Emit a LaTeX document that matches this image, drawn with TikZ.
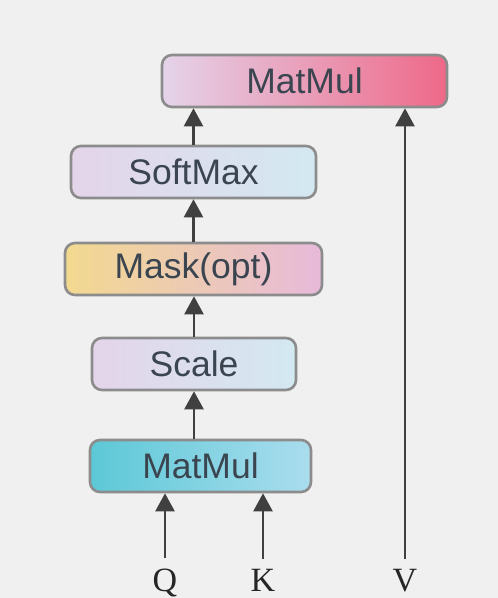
\documentclass[tikz,border=0pt]{standalone}
\usepackage{fontspec}
\setmainfont{Liberation Serif}
\newfontfamily\boxfont{Liberation Sans}
\usetikzlibrary{arrows.meta,positioning}
\definecolor{bggray}{HTML}{F0F0F0}
\definecolor{edgegray}{HTML}{8C8C8C}
\definecolor{dark}{HTML}{404040}
\definecolor{txtgray}{HTML}{3A4550}
\definecolor{lav}{HTML}{E4D4EA}
\definecolor{ltblue}{HTML}{D3E9F1}
\definecolor{pinkmid}{HTML}{DA92C0}
\definecolor{redpink}{HTML}{EE6888}
\definecolor{sand}{HTML}{F2D98F}
\definecolor{ltpink}{HTML}{EFD2E4}
\definecolor{pink}{HTML}{E7BADA}
\definecolor{teal}{HTML}{5CC8D6}
\definecolor{skyblue}{HTML}{AADDEE}
\tikzset{
  box/.style={draw=edgegray, rounded corners=10pt, line width=2.6pt, align=center, minimum height=52pt, inner sep=0pt, font=\boxfont\fontsize{35.5}{40}\selectfont, text=txtgray},
  pinkbox/.style={box, left color=lav, middle color=pinkmid, right color=redpink},
  lavbox/.style={box, left color=lav, right color=ltblue},
  sandbox/.style={box, left color=sand, middle color=ltpink, right color=pink},
  tealbox/.style={box, left color=teal, right color=skyblue},
  arrow/.style={-{Triangle[length=18pt, width=19pt]}, line width=2.4pt, draw=dark},
  inlabel/.style={font=\fontsize{34}{38}\selectfont, text=black!85, inner sep=1pt}
}
\begin{document}
\begin{tikzpicture}[x=1pt, y=-1pt]
  \fill[bggray] (0,0) rectangle (498,598);
  \useasboundingbox (0,0) rectangle (498,598);
  \node[pinkbox, minimum width=285pt] (matmultop) at (304.5,81) {MatMul};
  \node[lavbox, minimum width=245pt] (softmax) at (193.5,172) {SoftMax};
  \node[sandbox, minimum width=257pt] (mask) at (193.5,269) {Mask(opt)};
  \node[lavbox, minimum width=204pt] (scale) at (194,364) {Scale};
  \node[tealbox, minimum width=221pt] (matmul) at (200.5,466) {MatMul};
  \node[inlabel, anchor=base] (qlabel) at (165,591) {Q};
  \node[inlabel, anchor=base] (klabel) at (263,591) {K};
  \node[inlabel, anchor=base] (vlabel) at (405,591) {V};
  \draw[arrow] ([yshift=9pt]qlabel.north) -- (qlabel.north |- matmul.south);
  \draw[arrow] ([yshift=9pt]klabel.north) -- (klabel.north |- matmul.south);
  \draw[arrow] ([yshift=9pt]vlabel.north) -- (vlabel.north |- matmultop.south);
  \draw[arrow] (scale.south |- matmul.north) -- (scale.south);
  \draw[arrow] (scale.north) -- (scale.north |- mask.south);
  \draw[arrow] (mask.north) -- (mask.north |- softmax.south);
  \draw[arrow] (softmax.north) -- (softmax.north |- matmultop.south);
\end{tikzpicture}
\end{document}
